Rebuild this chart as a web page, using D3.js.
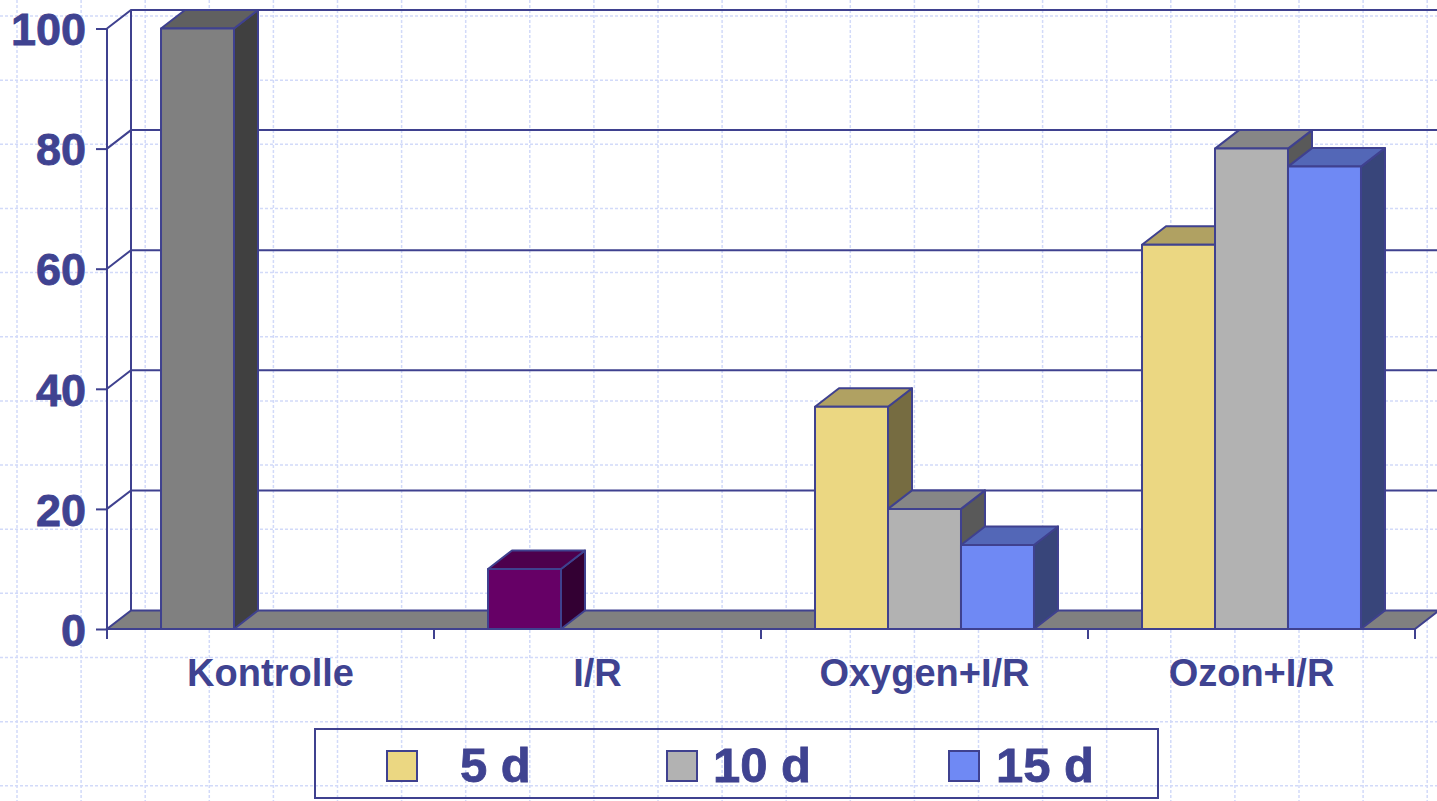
<!DOCTYPE html>
<html>
<head>
<meta charset="utf-8">
<script src="https://cdn.jsdelivr.net/npm/d3@7"></script>
<style>
  body { margin: 0; background: #fff; }
  svg text { font-family: Arial, 'Liberation Sans', sans-serif; font-weight: bold; fill: #3f4391; }
</style>
</head>
<body>
<svg id="chart"></svg>
<script>
'use strict'

// data
const categories = ['Kontrolle', 'I/R', 'Oxygen+I/R', 'Ozon+I/R']
const seriesNames = ['5 d', '10 d', '15 d']
const values5d  = [100, 10, 37, 64]
const values10d = [0, 0, 20, 80]
const values15d = [0, 0, 14, 77]
const yTicks = [0, 20, 40, 60, 80, 100]

// colours: one per series, plus the two single points that are coloured differently
const seriesColors = ['#ebd782', '#b2b2b2', '#6f89f4']
const pointColors = { 'Kontrolle': '#808080', 'I/R': '#660066' }

const width = 1437, height = 801
const ink = '#3f418f'
const depthX = 24, depthY = 18.5 // 3d offset of the back wall

const svg = d3.select('#chart').attr('width', width).attr('height', height)

// scales
const x = d3.scaleBand().domain(categories).range([107, 1415])
const xInner = d3.scaleBand().domain(seriesNames).range([0, x.bandwidth()]).paddingOuter(0.74)
const y = d3.scaleLinear().domain([0, 100]).range([629, 28.5])

// dashed background grid (slide paper)
const bg = svg.append('g')
bg.selectAll('.vgrid').data(d3.range(17, width, 64.1)).enter().append('line')
  .attr('x1', d => d).attr('x2', d => d).attr('y1', 0).attr('y2', height)
bg.selectAll('.hgrid').data(d3.range(16, height, 64.15)).enter().append('line')
  .attr('x1', 0).attr('x2', width).attr('y1', d => d).attr('y2', d => d)
bg.selectAll('line')
  .attr('stroke', '#d2daf9').attr('stroke-width', 1.5).attr('stroke-dasharray', '3,2')

const x0 = x.range()[0], x1 = x.range()[1]

// back wall and gridlines (front edge -> diagonal -> back wall)
const wall = svg.append('g').attr('fill', 'none').attr('stroke', ink).attr('stroke-width', 2)
wall.selectAll('path').data(yTicks.filter(d => d > 0)).enter().append('path')
  .attr('d', d => `M${x0},${y(d)}L${x0 + depthX},${y(d) - depthY}L${x1 + depthX},${y(d) - depthY}`)
wall.append('line')
  .attr('x1', x0 + depthX).attr('x2', x0 + depthX)
  .attr('y1', y(0) - depthY).attr('y2', y(100) - depthY)

// floor
svg.append('path')
  .attr('d', `M${x0},${y(0)}L${x1},${y(0)}L${x1 + depthX},${y(0) - depthY}L${x0 + depthX},${y(0) - depthY}Z`)
  .attr('fill', '#808080').attr('stroke', ink).attr('stroke-width', 2)

// bars, left to right so later faces cover earlier side faces
const series = [values5d, values10d, values15d]
const bars = []
categories.forEach((c, i) => {
  series.forEach((vals, s) => {
    if (!vals[i]) return
    const color = (s === 0 && pointColors[c]) ? pointColors[c] : seriesColors[s]
    bars.push({ cat: c, name: seriesNames[s], value: vals[i], color: color })
  })
})

const shade = (c, k) => { const r = d3.rgb(c); return d3.rgb(r.r * k, r.g * k, r.b * k) }

const bar = svg.selectAll('.bar').data(bars).enter().append('g')
  .classed('bar', true)
  .attr('stroke', ink).attr('stroke-width', 2).attr('stroke-linejoin', 'round')

bar.each(function (d) {
  const g = d3.select(this)
  const left = x(d.cat) + xInner(d.name)
  const right = left + xInner.bandwidth()
  const top = y(d.value), bottom = y(0)
  // side face
  g.append('path')
    .attr('d', `M${right},${bottom}L${right},${top}L${right + depthX},${top - depthY}L${right + depthX},${bottom - depthY}Z`)
    .attr('fill', shade(d.color, 0.5))
  // top face
  g.append('path')
    .attr('d', `M${left},${top}L${left + depthX},${top - depthY}L${right + depthX},${top - depthY}L${right},${top}Z`)
    .attr('fill', shade(d.color, 0.75))
  // front face
  g.append('rect')
    .attr('x', left).attr('y', top)
    .attr('width', right - left).attr('height', bottom - top)
    .attr('fill', d.color)
})

// y axis
const yAxis = svg.append('g')
  .attr('transform', `translate(${x0},0)`)
  .call(d3.axisLeft(y).tickValues(yTicks).tickSize(11).tickPadding(10).tickSizeOuter(0))
yAxis.select('.domain').remove()
yAxis.selectAll('line').attr('stroke', ink).attr('stroke-width', 2)
yAxis.selectAll('text')
  .attr('fill', ink).attr('stroke', ink).attr('stroke-width', 0.8).style('font-size', '45px')
  .style('font-family', "Arial, 'Liberation Sans', sans-serif").style('font-weight', 'bold')
  .attr('dy', '0.36em')
svg.append('line')
  .attr('x1', x0).attr('x2', x0).attr('y1', y(0) + 10).attr('y2', y(100))
  .attr('stroke', ink).attr('stroke-width', 2)

// x axis: front floor edge, ticks between categories
const xAxis = svg.append('g').attr('stroke', ink).attr('stroke-width', 2)
xAxis.append('line').attr('x1', x0).attr('x2', x1).attr('y1', y(0)).attr('y2', y(0))
xAxis.selectAll('.tick').data(categories.map(c => x(c)).concat([x1])).enter().append('line')
  .attr('x1', d => d).attr('x2', d => d).attr('y1', y(0)).attr('y2', y(0) + 10)

svg.selectAll('.catLabel').data(categories).enter().append('text')
  .attr('x', d => x(d) + x.bandwidth() / 2)
  .attr('y', 686)
  .attr('text-anchor', 'middle')
  .style('font-size', '38px')
  .text(d => d)

// legend
const legend = svg.append('g')
legend.append('rect')
  .attr('x', 315).attr('y', 729).attr('width', 843).attr('height', 69)
  .attr('fill', 'none').attr('stroke', ink).attr('stroke-width', 2)
const swatchX = [387, 667, 949], labelX = [460, 713, 996]
const item = legend.selectAll('.item').data(seriesNames).enter().append('g')
item.append('rect')
  .attr('x', (d, i) => swatchX[i]).attr('y', 751).attr('width', 30).attr('height', 30)
  .attr('fill', (d, i) => seriesColors[i]).attr('stroke', ink).attr('stroke-width', 2)
item.append('text')
  .attr('x', (d, i) => labelX[i]).attr('y', 782)
  .attr('stroke', ink).attr('stroke-width', 0.8)
  .style('font-size', '49px')
  .text(d => d)
</script>
</body>
</html>
